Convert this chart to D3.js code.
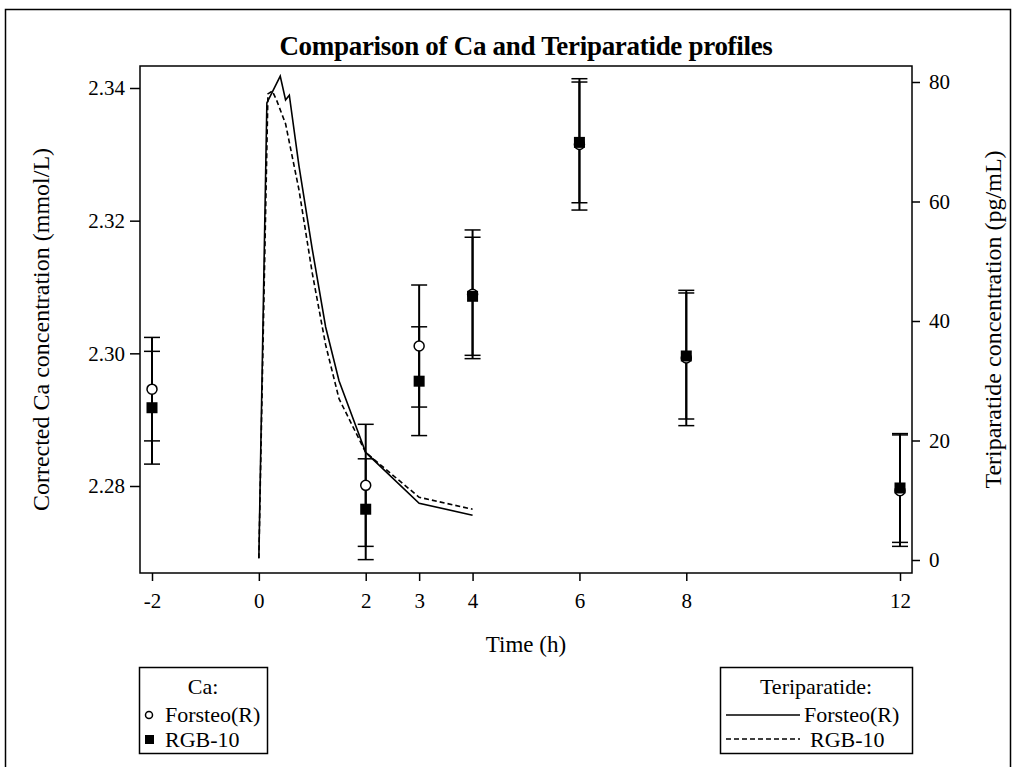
<!DOCTYPE html>
<html>
<head>
<meta charset="utf-8">
<script src="https://cdn.jsdelivr.net/npm/d3@7"></script>
<style>
  body { margin: 0; background: #fff; }
  text { font-family: "Liberation Serif", "Times New Roman", serif; fill: #000; }
</style>
</head>
<body>
<div id="my_dataviz"></div>
<script>
// Ca data (left axis)
const caTimes = [-2, 2, 3, 4, 6, 8, 12];
const caForsteo = [2.2946, 2.2801, 2.3011, 2.3089, 2.3315, 2.2993, 2.2793];
const caForsteoErr = [0.0078, 0.0092, 0.0092, 0.0097, 0.0099, 0.0102, 0.0084];
const caRgb = [2.2918, 2.2765, 2.2958, 2.3086, 2.3318, 2.2996, 2.2797];
const caRgbErr = [0.0085, 0.0076, 0.0082, 0.0089, 0.0091, 0.0095, 0.0082];

// Teriparatide data (right axis)
const terTimesForsteo = [0, 0.15, 0.4, 0.5, 0.57, 0.75, 1, 1.25, 1.5, 2, 3, 4];
const terForsteo = [0.3, 76.5, 81, 77, 77.8, 66, 52, 39, 30, 18, 9.5, 7.5];
const terTimesRgb = [0, 0.17, 0.25, 0.33, 0.5, 0.75, 1, 1.25, 1.5, 2, 3, 4];
const terRgb = [0.3, 78, 78.5, 77, 73, 62, 48, 36, 27, 18, 10.5, 8.5];

const xTicks = [-2, 0, 2, 3, 4, 6, 8, 12];
const caTicks = [2.28, 2.30, 2.32, 2.34];
const terTicks = [0, 20, 40, 60, 80];

const W = 1016, H = 767;
const plot = { left: 140, right: 912, top: 66, bottom: 573 };

const svg = d3.select("#my_dataviz")
  .append("svg")
  .attr("width", W)
  .attr("height", H);

// outer frame
svg.append("rect")
  .attr("x", 5.5).attr("y", 9.5)
  .attr("width", 1005).attr("height", 780)
  .attr("fill", "none").attr("stroke", "#000").attr("stroke-width", 1.5);

// scales
const x = d3.scaleLinear().domain([-2, 12]).range([152, 900]);
const yCa = d3.scaleLinear().domain([2.28, 2.34]).range([486, 88]);
const yTer = d3.scaleLinear().domain([0, 80]).range([560, 82]);

// title
svg.append("text")
  .attr("x", (plot.left + plot.right) / 2)
  .attr("y", 55)
  .attr("text-anchor", "middle")
  .style("font-size", "27px")
  .style("font-weight", "bold")
  .style("letter-spacing", "-0.3px")
  .text("Comparison of Ca and Teriparatide profiles");

// axes
const axisFont = "21px";
const xAxis = svg.append("g")
  .attr("transform", `translate(0,${plot.bottom})`)
  .call(d3.axisBottom(x).tickValues(xTicks).tickSize(8).tickPadding(12).tickFormat(d => String(d)));
const yAxisL = svg.append("g")
  .attr("transform", `translate(${plot.left},0)`)
  .call(d3.axisLeft(yCa).tickValues(caTicks).tickSize(10).tickPadding(5).tickFormat(d3.format(".2f")));
const yAxisR = svg.append("g")
  .attr("transform", `translate(${plot.right},0)`)
  .call(d3.axisRight(yTer).tickValues(terTicks).tickSize(8).tickPadding(9).tickFormat(d => String(d)));

[xAxis, yAxisL, yAxisR].forEach(a => {
  a.select(".domain").remove();
  a.selectAll("line").attr("stroke", "#000").attr("stroke-width", 1.5);
  a.selectAll("text").style("font-size", axisFont).style("font-family", "Liberation Serif");
});

// plot frame
svg.append("rect")
  .attr("x", plot.left).attr("y", plot.top)
  .attr("width", plot.right - plot.left).attr("height", plot.bottom - plot.top)
  .attr("fill", "none").attr("stroke", "#000").attr("stroke-width", 1.5);

// axis labels
svg.append("text")
  .attr("text-anchor", "middle")
  .attr("x", (plot.left + plot.right) / 2)
  .attr("y", 652)
  .style("font-size", "23px")
  .text("Time (h)");

svg.append("text")
  .attr("text-anchor", "middle")
  .attr("transform", `translate(49,${(plot.top + plot.bottom) / 2 + 10}) rotate(-90)`)
  .style("font-size", "24px")
  .text("Corrected Ca concentration (mmol/L)");

svg.append("text")
  .attr("text-anchor", "middle")
  .attr("transform", `translate(1001,${(plot.top + plot.bottom) / 2}) rotate(-90)`)
  .style("font-size", "24px")
  .text("Teriparatide concentration (pg/mL)");

// teriparatide lines
const line = (ts) => d3.line().x((d, i) => x(ts[i])).y(d => yTer(d));
svg.append("path")
  .datum(terForsteo)
  .attr("d", line(terTimesForsteo))
  .attr("fill", "none").attr("stroke", "#000").attr("stroke-width", 1.6);
svg.append("path")
  .datum(terRgb)
  .attr("d", line(terTimesRgb))
  .attr("fill", "none").attr("stroke", "#000").attr("stroke-width", 1.6)
  .attr("stroke-dasharray", "5,3");

// error bars
const capW = 8;
function errBars(vals, errs) {
  const g = svg.append("g");
  caTimes.forEach((t, i) => {
    const cx = x(t), y1 = yCa(vals[i] + errs[i]), y2 = yCa(vals[i] - errs[i]);
    g.append("line").attr("x1", cx).attr("x2", cx).attr("y1", y1).attr("y2", y2)
      .attr("stroke", "#000").attr("stroke-width", 2);
    [y1, y2].forEach(yy => g.append("line")
      .attr("x1", cx - capW).attr("x2", cx + capW).attr("y1", yy).attr("y2", yy)
      .attr("stroke", "#000").attr("stroke-width", 1.5));
  });
}
errBars(caForsteo, caForsteoErr);
errBars(caRgb, caRgbErr);

// markers
svg.append("g").selectAll("circle")
  .data(caForsteo)
  .join("circle")
  .attr("cx", (d, i) => x(caTimes[i]))
  .attr("cy", d => yCa(d))
  .attr("r", 5)
  .attr("fill", "#fff").attr("stroke", "#000").attr("stroke-width", 1.5);
svg.append("g").selectAll("rect")
  .data(caRgb)
  .join("rect")
  .attr("x", (d, i) => x(caTimes[i]) - 5.5)
  .attr("y", d => yCa(d) - 5.5)
  .attr("width", 11).attr("height", 11)
  .attr("fill", "#000");

// legends
const legFont = "22px";
const legCa = svg.append("g");
legCa.append("rect").attr("x", 139.5).attr("y", 667.5).attr("width", 128).attr("height", 86)
  .attr("fill", "none").attr("stroke", "#000").attr("stroke-width", 1.5);
legCa.append("text").attr("x", 203).attr("y", 694).attr("text-anchor", "middle").style("font-size", legFont).text("Ca:");
legCa.append("circle").attr("cx", 149).attr("cy", 715).attr("r", 3.5)
  .attr("fill", "#fff").attr("stroke", "#000").attr("stroke-width", 1.5);
legCa.append("text").attr("x", 165).attr("y", 722).style("font-size", legFont).text("Forsteo(R)");
legCa.append("rect").attr("x", 145).attr("y", 735).attr("width", 9).attr("height", 9).attr("fill", "#000");
legCa.append("text").attr("x", 165).attr("y", 747).style("font-size", legFont).text("RGB-10");

const legTer = svg.append("g");
legTer.append("rect").attr("x", 720.5).attr("y", 667.5).attr("width", 192).attr("height", 86)
  .attr("fill", "none").attr("stroke", "#000").attr("stroke-width", 1.5);
legTer.append("text").attr("x", 816).attr("y", 694).attr("text-anchor", "middle").style("font-size", legFont).text("Teriparatide:");
legTer.append("line").attr("x1", 726).attr("x2", 800).attr("y1", 715).attr("y2", 715)
  .attr("stroke", "#000").attr("stroke-width", 1.3);
legTer.append("text").attr("x", 804).attr("y", 722).style("font-size", legFont).text("Forsteo(R)");
legTer.append("line").attr("x1", 726).attr("x2", 800).attr("y1", 739).attr("y2", 739)
  .attr("stroke", "#000").attr("stroke-width", 1.3).attr("stroke-dasharray", "5,3");
legTer.append("text").attr("x", 810).attr("y", 747).style("font-size", legFont).text("RGB-10");
</script>
</body>
</html>
